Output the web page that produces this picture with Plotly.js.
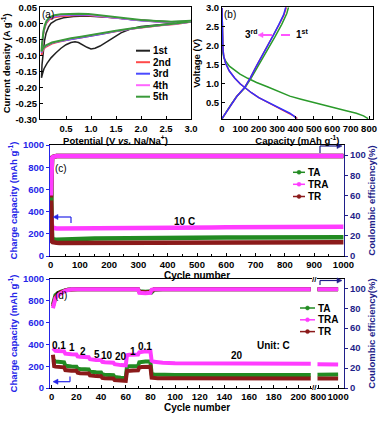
<!DOCTYPE html>
<html><head><meta charset="utf-8">
<script src="https://cdn.plot.ly/plotly-3.0.1.min.js"></script>
<style>html,body{margin:0;padding:0;background:#fff}#chart{width:384px;height:424px}</style>
</head><body><div id="chart"></div>
<script>
// ---------- (a) CV curves ----------
const cvPot1 = [3.0,2.6,2.2,2.0,1.8,1.6,1.45,1.3,1.18,1.08,1.0,0.92,0.85,0.75,0.68,0.6,0.5,0.4,0.3,0.2,0.12,0.06,0.03,0.01,0.02,0.04,0.07,0.1,0.15,0.2,0.3,0.45,0.65,0.9,1.2,1.5,1.8,2.2,2.6,3.0];
const cvCur1 = [0.005,-0.001,-0.006,-0.01,-0.017,-0.03,-0.045,-0.06,-0.071,-0.078,-0.08,-0.075,-0.068,-0.06,-0.058,-0.06,-0.067,-0.078,-0.092,-0.108,-0.125,-0.142,-0.158,-0.17,-0.13,-0.09,-0.055,-0.032,-0.012,0.0,0.01,0.017,0.021,0.023,0.021,0.017,0.012,0.008,0.005,0.006];
const cvPot = [3.0,2.7,2.4,2.1,1.8,1.5,1.2,1.0,0.8,0.6,0.45,0.33,0.22,0.15,0.09,0.05,0.02,0.01,0.02,0.035,0.05,0.08,0.11,0.17,0.27,0.4,0.55,0.75,0.95,1.18,1.45,1.7,2.0,2.3,2.6,3.0];
const cvCur2 = [0.004,-0.003,-0.007,-0.012,-0.018,-0.026,-0.035,-0.04,-0.045,-0.05,-0.054,-0.059,-0.064,-0.069,-0.075,-0.082,-0.092,-0.1,-0.075,-0.05,-0.032,-0.012,0.0,0.012,0.018,0.021,0.023,0.025,0.024,0.021,0.017,0.012,0.008,0.005,0.003,0.005];
const cvCur3 = [0.004,-0.002,-0.006,-0.011,-0.017,-0.025,-0.034,-0.039,-0.044,-0.049,-0.053,-0.058,-0.062,-0.067,-0.072,-0.078,-0.086,-0.092,-0.07,-0.046,-0.028,-0.009,0.003,0.015,0.021,0.024,0.026,0.027,0.026,0.022,0.018,0.013,0.008,0.005,0.004,0.006];
const cvCur4 = [0.005,-0.002,-0.006,-0.011,-0.017,-0.024,-0.033,-0.038,-0.043,-0.048,-0.052,-0.057,-0.061,-0.066,-0.071,-0.077,-0.085,-0.09,-0.068,-0.044,-0.026,-0.007,0.005,0.017,0.023,0.026,0.027,0.028,0.027,0.023,0.019,0.014,0.009,0.006,0.004,0.007];
const cvCur5 = [0.006,-0.001,-0.005,-0.01,-0.016,-0.023,-0.032,-0.037,-0.042,-0.047,-0.051,-0.056,-0.06,-0.065,-0.07,-0.076,-0.084,-0.088,-0.066,-0.042,-0.024,-0.005,0.007,0.019,0.025,0.028,0.029,0.03,0.029,0.025,0.02,0.015,0.01,0.007,0.005,0.008];
const cvNames = ['1st','2nd','3rd','4th','5th'];
const potTicks = [0.5,1.0,1.5,2.0,2.5,3.0];
const potTickText = ['0.5','1.0','1.5','2.0','2.5','3.0'];
const curTicks = [0.05,0.0,-0.05,-0.10,-0.15,-0.20,-0.25,-0.30];
const curTickText = ['0.05','0.00','-0.05','-0.10','-0.15','-0.20','-0.25','-0.30'];

// ---------- (b) charge/discharge ----------
const disCap1 = [0,2,5,10,20,40,70,98,140,188,250,310,369,430,490,550,610,670,731,770,795];
const disV1   = [2.98,2.2,1.8,1.68,1.58,1.45,1.33,1.24,1.13,1.02,0.9,0.78,0.66,0.58,0.5,0.42,0.35,0.28,0.21,0.14,0.07];
const chgCap1 = [0,20,50,80,125,160,200,240,288,325,352,362];
const chgV1   = [0.06,0.22,0.45,0.65,0.88,1.15,1.48,1.82,2.22,2.55,2.83,3.0];
const disCap2 = [0,2,5,10,20,40,70,100,125,160,200,250,300,340,372,395,410];
const disV2   = [2.98,2.3,1.9,1.7,1.52,1.32,1.13,0.98,0.88,0.75,0.62,0.5,0.36,0.27,0.2,0.13,0.07];
const chgCap2 = [0,20,50,80,122,155,188,230,279,310,337,350];
const chgV2   = [0.07,0.22,0.45,0.65,0.88,1.15,1.46,1.82,2.25,2.54,2.8,3.0];
const disCap3 = [0,2,5,10,20,40,70,100,125,160,200,250,300,340,369,390,405];
const disV3   = [2.98,2.3,1.9,1.7,1.52,1.32,1.13,0.98,0.88,0.75,0.62,0.5,0.36,0.27,0.21,0.14,0.07];
const chgCap3 = [0,20,50,80,122,155,188,230,279,310,335,347];
const chgV3   = [0.07,0.22,0.45,0.65,0.88,1.15,1.46,1.82,2.26,2.55,2.8,3.0];
const voltTicks = [0.5,1.0,1.5,2.0,2.5,3.0];
const voltTickText = ['0.5','1.0','1.5','2.0','2.5','3.0'];

// ---------- (c) long cycling at 10 C ----------
const cycC = [1,2,3,4,5,7,10,15,20,30,50,75,100,150,200,250,300,350,400,450,500,550,600,650,700,750,800,850,900,950,1000];
const capTA_C  = [680,300,210,180,165,155,150,147,146,146,148,151,154,157,159,160,161,162,163,164,164,165,166,166,167,167,168,168,169,169,170];
const capTRA_C = [390,300,275,265,260,255,252,249,248,247,247,248,249,250,251,252,253,254,255,256,256,257,258,258,259,260,261,261,262,263,263];
const capTR_C  = [610,280,170,140,130,125,122,120,119,118,118,118,119,119,120,120,120,121,121,121,122,122,122,122,123,123,123,123,124,124,124];
const ceTA_C  = [55,88,94,96.5,97.5,98,98.5,99,99,99,99,99,99,99,99,99,99,99,99,99,99,99,99,99,99,99,99,99,99,99,99];
const ceTRA_C = [60,85,93,96,97,98,98.5,99,99,99,99,99,99,99,99,99,99,99,99,99,99,99,99,99,99,99,99,99,99,99,99];
const ceTR_C  = [58,87,93,96,97.5,98,98.5,99,99,99,99,99,99,99,99,99,99,99,99,99,99,99,99,99,99,99,99,99,99,99,99];

// ---------- (d) rate capability ----------
const cycD = [1,2,3,5,7,10,11,13,16,20,21,23,26,30,31,33,36,40,41,43,46,50,51,53,56,60,61,63,66,70,71,73,76,80,81,83,86,90,100,120,140,160,180,200,210];
const capTA_D  = [260,245,242,240,238,236,205,200,198,196,178,174,172,170,150,146,144,142,125,121,119,117,100,96,94,92,195,199,200,201,236,240,242,243,130,124,122,121,120,120,119,119,119,119,119];
const capTRA_D = [365,348,342,340,338,336,315,311,309,307,290,286,284,282,264,260,258,256,240,236,234,232,218,213,210,208,300,304,306,307,328,333,336,338,250,240,234,231,228,226,225,224,224,223,223];
const capTR_D  = [305,200,196,194,192,190,165,161,159,158,140,136,134,133,115,111,109,108,93,90,88,87,72,69,67,66,155,159,161,162,188,192,194,195,95,91,90,89,89,89,88,88,88,88,88];
const ceTA_D  = [84,90,93,95,96.5,97.5,98,98.5,99,99,99,99,99,99,99,99,99,99,99,99,99,99,99,99,99,99,99,99,99,99,97,96.5,96.5,97,96,98.5,99,99,99,99,99,99,99,99,99];
const ceTRA_D = [80,87,90,93,95,97,97.5,98.5,99,99,99,99,99,99,99,99,99,99,99,99,99,99,99,99,99,99,99,99,99,99,95.5,95,95,95.5,98.5,99,99,99,99,99,99,99,99,99,99];
const ceTR_D  = [82,88,91,94,96,97,98,98.5,99,99,99,99,99,99,99,99,99,99,99,99,99,99,99,99,99,99,99,99,99,99,96.5,96,96,96.5,97.5,99,99,99,99,99,99,99,99,99,99];
const cycTail = [790,850,900,950,1000];
const capTA_T  = [122,123,123,124,124];
const capTRA_T = [218,218,217,217,216];
const capTR_T  = [88,88,87,87,87];
const ceTail   = [99,99,99,99,99];
const rateLabels = ['0.1','1','2','5','10','20','1','0.1','20'];
const seriesNames = ['TA','TRA','TR'];

// ---------- styling ----------
const W = 384, H = 424;
const px = x => x / W, py = y => 1 - y / H;
const FONT = 'Liberation Sans, Arial, sans-serif';
const BLUE = '#2525e8', NAVY = '#1f1f8a';
const cvColors = ['#222222','#ff4a4a','#4a4aff','#ff66ff','#3a9a3a'];
const cGreen = '#228b22', cPink = '#ff3cff', cRed = '#8b1a1a';

const traces = [];
// (a)
const cvX = [cvPot1, cvPot, cvPot, cvPot, cvPot];
const cvY = [cvCur1, cvCur2, cvCur3, cvCur4, cvCur5];
for (let i = 0; i < 5; i++) {
  traces.push({x: cvX[i], y: cvY[i], name: cvNames[i], type: 'scatter', mode: 'lines',
    line: {color: cvColors[i], width: i === 4 ? 2 : 1.5}, xaxis: 'x', yaxis: 'y'});
}
// (b)
const gcd = [[disCap1, disV1, '#2a9a2a'], [chgCap1, chgV1, '#2a9a2a'], [disCap2, disV2, '#ff3030'], [chgCap2, chgV2, '#ff3030'], [disCap3, disV3, '#3030ff'], [chgCap3, chgV3, '#3030ff']];
gcd.forEach(g => traces.push({x: g[0], y: g[1], type: 'scatter', mode: 'lines', line: {color: g[2], width: 1.5}, xaxis: 'x2', yaxis: 'y2'}));
// (c)
const capC = [capTA_C, capTRA_C, capTR_C], ceC = [ceTA_C, ceTRA_C, ceTR_C], colS = [cGreen, cPink, cRed];
for (let i = 0; i < 3; i++) traces.push({x: cycC, y: capC[i], name: seriesNames[i], type: 'scatter', mode: 'lines', line: {color: colS[i], width: 4.5}, xaxis: 'x3', yaxis: 'y3'});
[0, 2, 1].forEach(i => traces.push({x: cycC, y: ceC[i], type: 'scatter', mode: 'lines', line: {color: colS[i], width: 4.5}, xaxis: 'x3', yaxis: 'y4'}));
// (d)
const capD = [capTA_D, capTRA_D, capTR_D], ceD = [ceTA_D, ceTRA_D, ceTR_D], capT = [capTA_T, capTRA_T, capTR_T];
for (let i = 0; i < 3; i++) {
  traces.push({x: cycD, y: capD[i], type: 'scatter', mode: 'lines', line: {color: colS[i], width: 4}, xaxis: 'x5', yaxis: 'y5'});
  traces.push({x: cycTail, y: capT[i], type: 'scatter', mode: 'lines', line: {color: colS[i], width: 4}, xaxis: 'x6', yaxis: 'y5'});
}
[0, 2, 1].forEach(i => {
  traces.push({x: cycD, y: ceD[i], type: 'scatter', mode: 'lines', line: {color: colS[i], width: 4}, xaxis: 'x5', yaxis: 'y6'});
  traces.push({x: cycTail, y: ceTail, type: 'scatter', mode: 'lines', line: {color: colS[i], width: 4}, xaxis: 'x6', yaxis: 'y6'});
});

const tf = (c, s) => ({family: FONT, size: s || 9.5, color: c || '#000', weight: 'bold'});
const baseAx = {showgrid: false, zeroline: false, showline: true, linewidth: 1, linecolor: '#000', ticklen: 3, tickcolor: '#000', automargin: false, tickangle: 0, tickfont: tf()};

const layout = {
  width: W, height: H, margin: {l: 0, r: 0, t: 0, b: 0}, showlegend: false,
  paper_bgcolor: '#fff', plot_bgcolor: 'rgba(0,0,0,0)',
  font: {family: FONT, size: 10, color: '#000', weight: 'bold'},
  xaxis: Object.assign({}, baseAx, {domain: [px(40), px(191)], range: [-0.02, 3.0], anchor: 'y', tickvals: potTicks, ticktext: potTickText, ticks: 'inside', mirror: true,
    title: {text: 'Potential (V <i>vs.</i> Na/Na<sup>+</sup>)', font: tf('#000', 9.5), standoff: 1}}),
  yaxis: Object.assign({}, baseAx, {domain: [py(119.3), py(7.3)], range: [-0.30, 0.05], anchor: 'x', tickvals: curTicks, ticktext: curTickText, ticks: 'inside', mirror: true,
    title: {text: 'Current density (A g<sup>-1</sup>)', font: tf('#000', 9.5), standoff: 3}}),
  xaxis2: Object.assign({}, baseAx, {domain: [px(222), px(372.7)], range: [0, 820], anchor: 'y2', dtick: 100, ticks: 'inside', mirror: true,
    title: {text: 'Capacity (mAh g<sup>-1</sup>)', font: tf('#000', 9.5), standoff: 1}}),
  yaxis2: Object.assign({}, baseAx, {domain: [py(119.3), py(7.3)], range: [0.05, 3.0], anchor: 'x2', tickvals: voltTicks, ticktext: voltTickText, ticks: 'inside', mirror: true,
    title: {text: 'Voltage (V)', font: tf('#000', 9.5), standoff: 3}}),
  xaxis3: Object.assign({}, baseAx, {domain: [px(50), px(344)], range: [-2, 1002], anchor: 'y3', dtick: 100, ticks: 'inside', mirror: true,
    minor: {ticks: 'inside', ticklen: 2, dtick: 50, tickcolor: '#000'},
    title: {text: 'Cycle number', font: tf('#000', 10), standoff: 0}}),
  yaxis3: Object.assign({}, baseAx, {domain: [py(256), py(145)], range: [0, 1000], anchor: 'x3', dtick: 200, ticks: 'outside', linecolor: BLUE, tickcolor: BLUE, tickfont: tf(BLUE),
    title: {text: 'Charge capacity (mAh g<sup>-1</sup>)', font: tf(BLUE, 9.5), standoff: 3}}),
  yaxis4: Object.assign({}, baseAx, {overlaying: 'y3', side: 'right', anchor: 'x3', range: [0, 110], tickvals: [0, 20, 40, 60, 80, 100], ticks: 'outside', linecolor: NAVY, tickcolor: NAVY, tickfont: tf(NAVY),
    title: {text: 'Coulombic efficiency(%)', font: tf(NAVY, 9.5), standoff: 3}}),
  xaxis5: Object.assign({}, baseAx, {domain: [px(50), px(312)], range: [-1.4, 211], anchor: 'y5', dtick: 20, tick0: 0, ticks: 'inside', mirror: true,
    minor: {ticks: 'inside', ticklen: 2, dtick: 10, tickcolor: '#000'}}),
  xaxis6: Object.assign({}, baseAx, {domain: [px(317), px(344)], range: [785, 1060], anchor: 'y5', tickvals: [800, 1000], ticks: 'inside', mirror: true}),
  yaxis5: Object.assign({}, baseAx, {domain: [py(388), py(279)], range: [0, 1000], anchor: 'x5', dtick: 200, ticks: 'outside', linecolor: BLUE, tickcolor: BLUE, tickfont: tf(BLUE),
    title: {text: 'Charge capacity (mAh g<sup>-1</sup>)', font: tf(BLUE, 9.5), standoff: 3}}),
  yaxis6: Object.assign({}, baseAx, {overlaying: 'y5', side: 'right', anchor: 'x6', range: [0, 109.3], tickvals: [0, 20, 40, 60, 80, 100], ticks: 'outside', linecolor: NAVY, tickcolor: NAVY, tickfont: tf(NAVY),
    title: {text: 'Coulombic efficiency(%)', font: tf(NAVY, 9.5), standoff: 3}}),
  shapes: [], annotations: []
};

const A = (text, x, y, opts) => layout.annotations.push(Object.assign({text: text, x: px(x), y: py(y), xref: 'paper', yref: 'paper', xanchor: 'center', yanchor: 'middle', showarrow: false, borderpad: 0, font: tf('#000', 10)}, opts || {}));
const L = (x0, y0, x1, y1, color, width, dash) => layout.shapes.push({type: 'line', xref: 'paper', yref: 'paper', x0: px(x0), y0: py(y0), x1: px(x1), y1: py(y1), line: {color: color, width: width || 1.2, dash: dash || 'solid'}});
// filled triangular arrow head, tip at (x, y), dir = -1 points left, +1 points right
const Head = (x, y, dir, color) => layout.shapes.push({type: 'path', xref: 'paper', yref: 'paper',
  path: 'M ' + px(x) + ',' + py(y) + ' L ' + px(x - dir * 5) + ',' + py(y - 2.6) + ' L ' + px(x - dir * 5) + ',' + py(y + 2.6) + ' Z',
  fillcolor: color, line: {color: color, width: 0.5}});
const Dot = (cx, cy, color) => layout.shapes.push({type: 'circle', xref: 'paper', yref: 'paper', x0: px(cx - 2), x1: px(cx + 2), y0: py(cy + 2), y1: py(cy - 2), fillcolor: color, line: {color: color, width: 0.5}});

// panel labels
const plain = {family: FONT, size: 10, color: '#000', weight: 'normal'};
A('(a)', 48, 14, {font: plain});
A('(b)', 230, 14, {font: plain});
A('(c)', 61, 168, {font: plain});
A('(d)', 61, 295, {font: plain});

// legend (a)
const legY = [50.7, 62.2, 73.7, 85.2, 96.7];
for (let i = 0; i < 5; i++) { L(136, legY[i], 150, legY[i], cvColors[i], 2); A(cvNames[i], 152, legY[i], {xanchor: 'left'}); }

// (b) annotations
A('3<sup>rd</sup>', 251, 34);
A('1<sup>st</sup>', 302, 34);
L(263, 35, 292, 35, '#ff55ff', 1.8, 'dash');
Head(258, 35, -1, '#ff55ff');

// legends (c) and (d)
const legC = [172.3, 184.3, 196.5], legD = [308, 319.8, 331.6];
for (let i = 0; i < 3; i++) {
  L(293, legC[i], 305, legC[i], colS[i], 1.5); Dot(299, legC[i], colS[i]); A(seriesNames[i], 307, legC[i], {xanchor: 'left'});
  L(300, legD[i], 315, legD[i], colS[i], 1.5); Dot(307.5, legD[i], colS[i]); A(seriesNames[i], 317, legD[i], {xanchor: 'left'});
}
A('10 C', 184, 221);

// axis-pointing arrows
L(71, 217, 71, 223, BLUE); L(56, 217, 71, 217, BLUE); Head(53, 217, -1, BLUE);
L(320, 146, 320, 153, NAVY); L(320, 146, 339, 146, NAVY); Head(342, 146, 1, NAVY);
L(70, 376.5, 70, 381.7, BLUE); L(56, 381.7, 70, 381.7, BLUE); Head(53, 381.7, -1, BLUE);
L(320, 280.5, 320, 285, NAVY); L(320, 280.5, 339, 280.5, NAVY); Head(342, 280.5, 1, NAVY);

// (d) rate labels
const rateX = [59, 71.5, 83, 96.7, 107, 120.5, 133, 145, 236.7];
const rateY = [345, 347, 351.5, 354, 355.5, 356.5, 351, 346.5, 355];
rateLabels.forEach((t, i) => A(t, rateX[i], rateY[i]));
A('Unit: C', 273, 345);
A('Cycle number', 197, 407.5);
// axis break marks
A('//', 314.5, 387, {font: tf('#000', 8)});
A('//', 314.5, 279, {font: tf('#000', 8)});

Plotly.newPlot('chart', traces, layout, {displayModeBar: false, staticPlot: true});
</script></body></html>
